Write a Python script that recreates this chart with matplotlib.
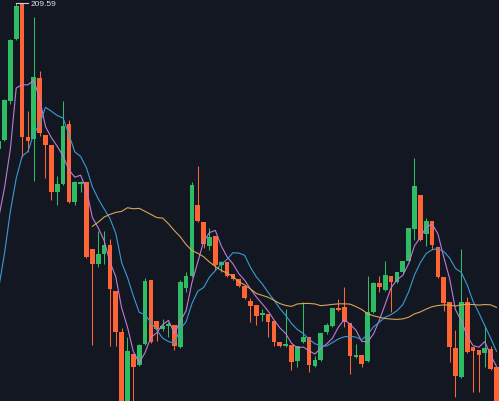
#!/usr/bin/env python
#Candlestick chart with MA5 / MA10 / MA30, dark theme

import numpy as np
import pandas as pd
import matplotlib
matplotlib.use("Agg")
import matplotlib.pyplot as plt

#Prices, first 13 candles sit left of the visible window (needed for the MAs)
opens = [172.8, 172.0, 170.0, 173.0, 170.7, 164.9, 163.9, 176.3, 174.2, 190.8, 184.9, 186.4, 178.8,
	195.0, 195.9, 199.8, 206.0, 209.55, 196.2, 196.0, 202.1, 196.4, 195.4,
	190.7, 191.5, 197.5, 189.7, 191.5, 191.7, 185.0, 183.5, 184.5, 185.4,
	180.8, 176.7, 169.0, 174.5, 173.4, 175.5, 181.9, 177.8, 177.0, 177.3,
	177.4, 175.2, 181.1, 182.3, 189.4, 187.7, 185.3, 186.3, 183.4, 183.7,
	182.5, 182.0, 181.3, 179.8, 179.4, 178.4, 178.5, 177.8, 175.7, 175.3,
	175.4, 173.8, 175.7, 176.2, 173.3, 173.9, 176.7, 177.3, 179.1, 179.2,
	177.6, 174.2, 174.4, 173.8, 178.7, 181.6, 180.9, 182.3, 181.7, 182.7,
	183.8, 187.0, 190.4, 186.5, 187.8, 185.2, 182.2, 179.7, 175.1, 172.2,
	179.7, 175.2, 174.9, 174.6, 175.0, 173.2]
closes = [172.0, 170.0, 173.0, 170.7, 164.9, 163.9, 176.3, 174.2, 190.8, 184.9, 186.4, 178.8, 194.6,
	195.8, 199.9, 205.9, 209.3, 196.2, 195.8, 202.2, 196.6, 195.4, 190.7,
	191.5, 197.3, 189.7, 191.7, 191.7, 184.2, 183.5, 184.5, 185.4, 181.0,
	176.7, 168.0, 174.8, 173.2, 175.4, 181.8, 175.7, 177.0, 177.3, 177.5,
	175.3, 181.7, 182.3, 191.4, 187.8, 185.5, 186.2, 183.4, 183.7, 182.3,
	182.0, 181.3, 180.1, 179.3, 178.3, 178.6, 177.7, 175.7, 175.3, 175.5,
	173.7, 175.3, 176.2, 173.4, 173.9, 176.6, 177.4, 179.1, 178.9, 177.7,
	174.3, 174.4, 173.5, 178.7, 181.6, 181.2, 182.4, 181.7, 182.7, 183.8,
	187.1, 191.3, 185.9, 187.8, 185.4, 182.2, 179.6, 175.2, 172.3, 179.7,
	174.7, 174.8, 174.4, 175.1, 173.0, 169.0]
highs = [173.1, 172.3, 173.3, 173.3, 171.0, 165.2, 176.6, 176.6, 191.1, 191.1, 186.7, 186.7, 194.9,
	195.9, 200.0, 206.0, 209.59, 209.55, 198.8, 208.2, 202.8, 196.4, 195.4,
	192.3, 199.8, 197.9, 191.8, 191.8, 191.7, 185.0, 186.8, 186.8, 186.0,
	180.8, 177.1, 176.2, 174.5, 175.5, 182.1, 181.9, 177.8, 178.0, 177.7,
	177.4, 181.9, 182.7, 191.7, 193.3, 187.7, 187.1, 186.3, 183.8, 183.7,
	182.5, 182.0, 181.3, 180.1, 179.4, 179.0, 178.5, 177.8, 175.7, 179.0,
	175.4, 175.3, 179.7, 176.2, 174.3, 176.6, 177.6, 179.1, 180.0, 181.2,
	177.6, 175.5, 174.4, 182.3, 181.7, 182.3, 183.8, 182.3, 182.7, 183.8,
	187.1, 194.1, 190.4, 188.1, 187.8, 185.2, 182.2, 179.7, 176.9, 185.0,
	180.2, 175.2, 174.9, 177.3, 175.3, 173.2]
lows = [171.7, 169.7, 169.7, 170.4, 164.6, 163.6, 163.6, 174.0, 173.9, 184.6, 184.6, 178.5, 178.5,
	194.9, 195.8, 199.5, 205.9, 194.2, 194.7, 191.8, 196.3, 192.1, 189.9,
	189.4, 191.4, 189.6, 189.4, 190.7, 184.1, 175.4, 183.2, 183.5, 175.3,
	175.3, 167.5, 168.5, 169.0, 173.3, 175.4, 175.6, 175.8, 176.8, 176.2,
	174.9, 175.1, 180.7, 182.2, 187.7, 185.1, 184.9, 182.9, 182.7, 182.2,
	181.9, 181.2, 180.0, 177.7, 177.4, 177.8, 176.2, 175.3, 175.2, 175.2,
	172.9, 173.2, 175.6, 172.7, 173.2, 173.8, 176.5, 177.2, 178.8, 177.2,
	172.5, 174.1, 173.2, 173.7, 178.6, 180.7, 180.8, 178.7, 181.6, 182.6,
	183.7, 185.9, 185.8, 185.3, 185.0, 182.1, 178.8, 173.7, 170.2, 172.1,
	174.6, 170.7, 170.7, 173.2, 172.9, 168.5]
ma_periods = [5, 10, 30]
hidden = 13

#Colors
bg = "#131722"
up_col = "#2ebd64"
down_col = "#fe6434"
ma_cols = ["#c07ad6", "#3a9ad4", "#d6a556"]

df = pd.DataFrame({"open": opens, "high": highs, "low": lows, "close": closes})
x = np.arange(len(df))

fig = plt.figure(figsize=(4.99, 4.02), dpi=100)
fig.patch.set_facecolor(bg)
ax = fig.add_axes([0, 0, 1, 1])
ax.set_facecolor(bg)

up = df["close"] >= df["open"]
cols = np.where(up, up_col, down_col)

#Wicks
ax.vlines(x, df["low"], df["high"], colors=cols, linewidth=0.75, zorder=2)

#Bodies
body_lo = np.minimum(df["open"], df["close"])
body_h = np.maximum(np.abs(df["close"] - df["open"]), 0.1)
ax.bar(x, body_h, bottom=body_lo, width=0.82, color=cols, linewidth=0, zorder=3)

#Moving averages
for p, c in zip(ma_periods, ma_cols):
	ma = df["close"].rolling(p).mean()
	ax.plot(x, ma, color=c, linewidth=0.8, zorder=4)

#Max price marker
imax = int(df["high"].idxmax())
hmax = df["high"][imax]
ax.plot([imax, imax + 2], [hmax, hmax], color="#d0d0d0", linewidth=0.8, zorder=5)
ax.text(imax + 2.4, hmax, "%.2f" % hmax, color="#e0e0e0", fontsize=6,
	family=["Liberation Sans", "DejaVu Sans"], ha="left", va="center", zorder=5)

ax.set_xlim(hidden + 0.232, hidden + 85.43)
ax.set_ylim(169.8, 210.0)
ax.axis("off")

fig.savefig("out.png", dpi=100, facecolor=bg)
